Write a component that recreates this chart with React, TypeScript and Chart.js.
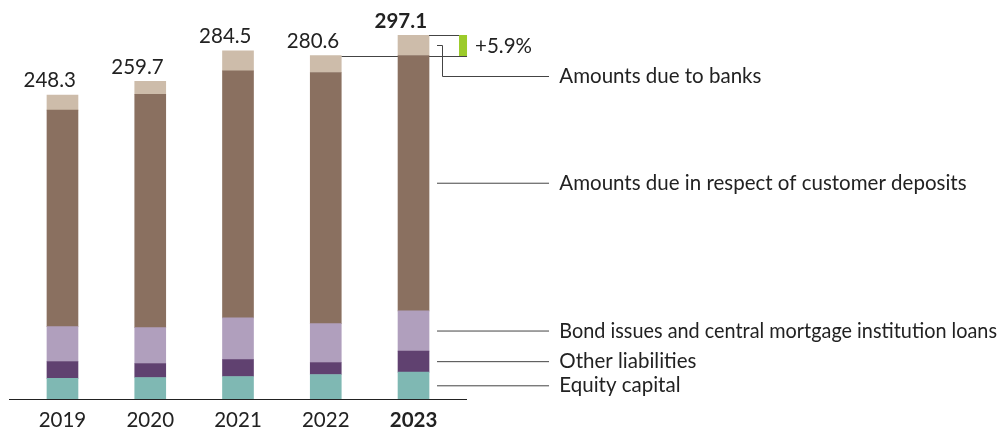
import React, { useEffect, useRef } from "react";
import { Chart, registerables } from "chart.js";

Chart.register(...registerables);

const YEARS = ["2019", "2020", "2021", "2022", "2023"];
const EQUITY = [17.1, 17.9, 18.7, 20.3, 22.2];
const OTHER = [13.8, 11.4, 13.8, 9.8, 17.2];
const BONDS = [28.5, 29.3, 34.1, 31.7, 32.8];
const DEPOSITS = [176.7, 190.5, 201.6, 205.0, 208.5];
const BANKS = [12.2, 10.6, 16.3, 13.8, 16.4];
const TOTALS = [248.3, 259.7, 284.5, 280.6, 297.1];

const SERIES_NAMES = [
  "Equity capital",
  "Other liabilities",
  "Bond issues and central mortgage institution loans",
  "Amounts due in respect of customer deposits",
  "Amounts due to banks",
];
const COLORS = ["#7fb8b3", "#604170", "#b09fbd", "#8a7060", "#cdbcaa"];

const FONT = "Lato, sans-serif";
const FS = 20.5;
const TEXT = "#222222";
const LINE = "#444444";

const annotations = {
  id: "annotations",
  beforeDatasetsDraw(chart: any) {
    const { ctx } = chart;
    const x = chart.scales.x;
    const y = chart.scales.y;
    const n = TOTALS.length;
    const prev = TOTALS[n - 2];
    const yPrev = Math.round(y.getPixelForValue(prev)) + 0.5;
    const greenRight = x.getPixelForValue(n - 1) + 53.5;
    ctx.save();
    ctx.strokeStyle = LINE;
    ctx.lineWidth = 1;
    ctx.beginPath();
    ctx.moveTo(x.getPixelForValue(n - 2) + 15.5, yPrev);
    ctx.lineTo(greenRight, yPrev);
    ctx.stroke();
    ctx.restore();
  },
  afterDatasetsDraw(chart: any) {
    const { ctx, chartArea, width } = chart;
    const x = chart.scales.x;
    const y = chart.scales.y;
    const n = TOTALS.length;
    ctx.save();

    // baseline
    ctx.strokeStyle = "#222";
    ctx.lineWidth = 1;
    ctx.beginPath();
    ctx.moveTo(chartArea.left - 9.6, 399.5);
    ctx.lineTo(chartArea.right + 9.6, 399.5);
    ctx.stroke();

    // totals (right-aligned near the bar's right edge)
    ctx.fillStyle = TEXT;
    ctx.textAlign = "right";
    ctx.textBaseline = "alphabetic";
    TOTALS.forEach((t, i) => {
      ctx.font = `${i === n - 1 ? "bold " : ""}${FS}px ${FONT}`;
      ctx.fillText(t.toFixed(1), x.getPixelForValue(i) + 13.5, y.getPixelForValue(t) - 7.7);
    });

    // growth bracket
    const last = TOTALS[n - 1];
    const prev = TOTALS[n - 2];
    const cx = x.getPixelForValue(n - 1);
    const yLast = Math.round(y.getPixelForValue(last)) + 0.5;
    const yPrev = Math.round(y.getPixelForValue(prev)) + 0.5;
    const gL = cx + 45.5;
    const gR = cx + 53.5;
    ctx.strokeStyle = LINE;
    ctx.beginPath();
    ctx.moveTo(cx + 15.5, yLast);
    ctx.lineTo(gL, yLast);
    ctx.stroke();
    ctx.fillStyle = "#9ccb2a";
    ctx.fillRect(gL, yLast - 0.5, gR - gL, yPrev - yLast);
    const pct = ((last / prev - 1) * 100).toFixed(1);
    ctx.fillStyle = TEXT;
    ctx.font = `${FS}px ${FONT}`;
    ctx.textAlign = "left";
    ctx.fillText(`+${pct}%`, gR + 8, (yLast + yPrev) / 2 + 7);

    // series labels with leader lines
    const vals = [EQUITY, OTHER, BONDS, DEPOSITS, BANKS];
    let cum = 0;
    const lineStart = cx + 23.5;
    const lineEnd = cx + 135.5;
    const textX = cx + 145.8;
    vals.forEach((arr, k) => {
      const v = arr[n - 1];
      const mid = y.getPixelForValue(cum + v / 2);
      cum += v;
      ctx.strokeStyle = LINE;
      ctx.beginPath();
      let labelY = mid;
      if (k === vals.length - 1) {
        const elbowX = Math.round(lineStart + 5) + 0.5;
        labelY = Math.round(mid + 31) + 0.5;
        ctx.moveTo(lineStart, Math.round(mid) + 0.5);
        ctx.lineTo(elbowX, Math.round(mid) + 0.5);
        ctx.lineTo(elbowX, labelY);
        ctx.lineTo(lineEnd, labelY);
      } else {
        ctx.moveTo(lineStart, mid);
        ctx.lineTo(lineEnd, mid);
      }
      ctx.stroke();
      ctx.fillStyle = TEXT;
      ctx.font = `${FS}px ${FONT}`;
      ctx.textAlign = "left";
      ctx.fillText(SERIES_NAMES[k], textX, labelY + 6.6, width - textX - 1);
    });
    ctx.restore();
  },
};

export default function App() {
  const ref = useRef<HTMLCanvasElement | null>(null);
  useEffect(() => {
    if (!ref.current) return;
    const data = [EQUITY, OTHER, BONDS, DEPOSITS, BANKS];
    const chart = new Chart(ref.current, {
      type: "bar",
      data: {
        labels: YEARS,
        datasets: data.map((d, i) => ({
          label: SERIES_NAMES[i],
          data: d,
          backgroundColor: COLORS[i],
          borderWidth: 0,
          barThickness: 31,
        })),
      },
      options: {
        responsive: false,
        animation: false,
        devicePixelRatio: 1,
        layout: { padding: { left: 18.6, right: 540.6, top: 0, bottom: 3 } },
        plugins: { legend: { display: false }, tooltip: { enabled: false } },
        scales: {
          x: {
            stacked: true,
            grid: { display: false, drawTicks: false },
            border: { display: false },
            ticks: {
              padding: 9,
              color: TEXT,
              font: (c: any) => ({ family: FONT, size: FS, weight: c.index === 4 ? "bold" : "normal" }),
            },
          },
          y: { stacked: true, display: false, min: 0, max: 326 },
        },
      },
      plugins: [annotations],
    });
    return () => chart.destroy();
  }, []);
  return (
    <div style={{ position: "absolute", left: 0, top: 0, width: 998, height: 427, overflow: "hidden", background: "#fff" }}>
      <canvas ref={ref} width={998} height={445} style={{ width: 998, height: 445, display: "block" }} />
    </div>
  );
}
